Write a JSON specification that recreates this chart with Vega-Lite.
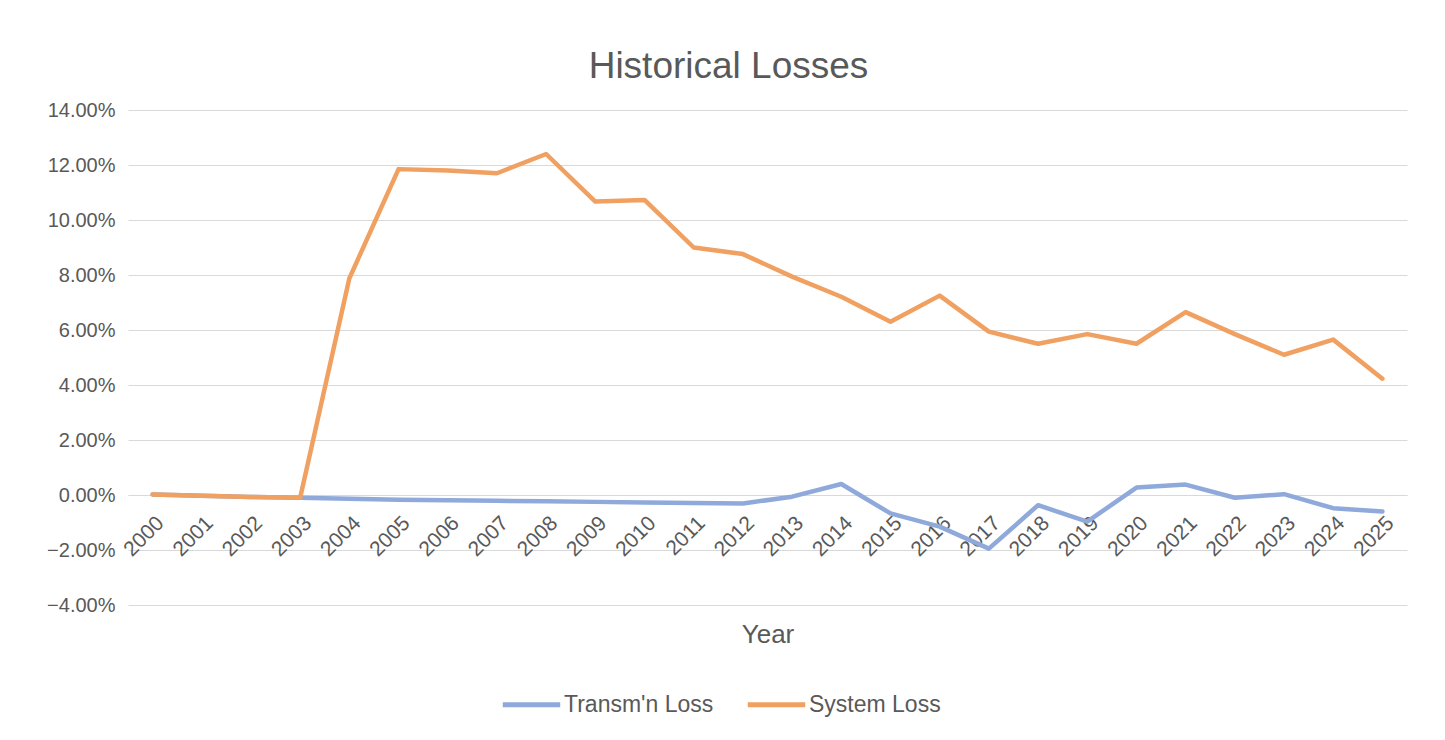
{
  "$schema": "https://vega.github.io/schema/vega-lite/v6.json",
  "width": 1279,
  "height": 495,
  "autosize": "none",
  "padding": {"left": 128, "top": 110, "right": 38, "bottom": 135},
  "background": "#ffffff",
  "title": {
    "text": "Historical Losses",
    "fontSize": 37,
    "font": "Liberation Sans",
    "fontWeight": "normal",
    "color": "#595959",
    "anchor": "middle",
    "dx": -39,
    "offset": 14
  },
  "data": {
    "values": [
      {"Year": "2000", "Series": "Transm'n Loss", "Value": 0.0002},
      {"Year": "2001", "Series": "Transm'n Loss", "Value": -0.0003},
      {"Year": "2002", "Series": "Transm'n Loss", "Value": -0.0007},
      {"Year": "2003", "Series": "Transm'n Loss", "Value": -0.0010},
      {"Year": "2004", "Series": "Transm'n Loss", "Value": -0.0014},
      {"Year": "2005", "Series": "Transm'n Loss", "Value": -0.0017},
      {"Year": "2006", "Series": "Transm'n Loss", "Value": -0.0019},
      {"Year": "2007", "Series": "Transm'n Loss", "Value": -0.0021},
      {"Year": "2008", "Series": "Transm'n Loss", "Value": -0.0023},
      {"Year": "2009", "Series": "Transm'n Loss", "Value": -0.0025},
      {"Year": "2010", "Series": "Transm'n Loss", "Value": -0.0027},
      {"Year": "2011", "Series": "Transm'n Loss", "Value": -0.0029},
      {"Year": "2012", "Series": "Transm'n Loss", "Value": -0.0031},
      {"Year": "2013", "Series": "Transm'n Loss", "Value": -0.0006},
      {"Year": "2014", "Series": "Transm'n Loss", "Value": 0.0040},
      {"Year": "2015", "Series": "Transm'n Loss", "Value": -0.0067},
      {"Year": "2016", "Series": "Transm'n Loss", "Value": -0.0115},
      {"Year": "2017", "Series": "Transm'n Loss", "Value": -0.0195},
      {"Year": "2018", "Series": "Transm'n Loss", "Value": -0.0037},
      {"Year": "2019", "Series": "Transm'n Loss", "Value": -0.0097},
      {"Year": "2020", "Series": "Transm'n Loss", "Value": 0.0027},
      {"Year": "2021", "Series": "Transm'n Loss", "Value": 0.0038},
      {"Year": "2022", "Series": "Transm'n Loss", "Value": -0.0010},
      {"Year": "2023", "Series": "Transm'n Loss", "Value": 0.0003},
      {"Year": "2024", "Series": "Transm'n Loss", "Value": -0.0048},
      {"Year": "2025", "Series": "Transm'n Loss", "Value": -0.0060},
      {"Year": "2000", "Series": "System Loss", "Value": 0.0002},
      {"Year": "2001", "Series": "System Loss", "Value": -0.0003},
      {"Year": "2002", "Series": "System Loss", "Value": -0.0007},
      {"Year": "2003", "Series": "System Loss", "Value": -0.0010},
      {"Year": "2004", "Series": "System Loss", "Value": 0.0788},
      {"Year": "2005", "Series": "System Loss", "Value": 0.1185},
      {"Year": "2006", "Series": "System Loss", "Value": 0.1180},
      {"Year": "2007", "Series": "System Loss", "Value": 0.1170},
      {"Year": "2008", "Series": "System Loss", "Value": 0.1240},
      {"Year": "2009", "Series": "System Loss", "Value": 0.1067},
      {"Year": "2010", "Series": "System Loss", "Value": 0.1073},
      {"Year": "2011", "Series": "System Loss", "Value": 0.0900},
      {"Year": "2012", "Series": "System Loss", "Value": 0.0876},
      {"Year": "2013", "Series": "System Loss", "Value": 0.0794},
      {"Year": "2014", "Series": "System Loss", "Value": 0.0721},
      {"Year": "2015", "Series": "System Loss", "Value": 0.0630},
      {"Year": "2016", "Series": "System Loss", "Value": 0.0725},
      {"Year": "2017", "Series": "System Loss", "Value": 0.0594},
      {"Year": "2018", "Series": "System Loss", "Value": 0.0550},
      {"Year": "2019", "Series": "System Loss", "Value": 0.0585},
      {"Year": "2020", "Series": "System Loss", "Value": 0.0550},
      {"Year": "2021", "Series": "System Loss", "Value": 0.0665},
      {"Year": "2022", "Series": "System Loss", "Value": 0.0585},
      {"Year": "2023", "Series": "System Loss", "Value": 0.0510},
      {"Year": "2024", "Series": "System Loss", "Value": 0.0565},
      {"Year": "2025", "Series": "System Loss", "Value": 0.0423}
    ]
  },
  "mark": {"type": "line", "strokeWidth": 4.5, "strokeCap": "round", "strokeJoin": "round"},
  "encoding": {
    "x": {
      "field": "Year",
      "type": "ordinal",
      "scale": {"type": "point", "padding": 0.5},
      "axis": {
        "title": "Year",
        "offset": -110,
        "labelAngle": -45,
        "labelFontSize": 21,
        "labelFont": "Liberation Sans",
        "labelColor": "#595959",
        "labelPadding": 17,
        "labelDx": -10,
        "ticks": false,
        "domain": true,
        "domainColor": "#d9d9d9",
        "grid": false,
        "titleFontSize": 26,
        "titleFont": "Liberation Sans",
        "titleFontWeight": "normal",
        "titleColor": "#595959",
        "titlePadding": 62
      }
    },
    "y": {
      "field": "Value",
      "type": "quantitative",
      "scale": {"domain": [-0.04, 0.14], "nice": false, "zero": false},
      "axis": {
        "title": null,
        "format": ".2%",
        "values": [-0.04, -0.02, 0, 0.02, 0.04, 0.06, 0.08, 0.1, 0.12, 0.14],
        "labelFontSize": 20,
        "labelFont": "Liberation Sans",
        "labelColor": "#595959",
        "labelPadding": 13,
        "ticks": false,
        "domain": false,
        "grid": true,
        "gridColor": "#d9d9d9",
        "gridWidth": 1
      }
    },
    "color": {
      "field": "Series",
      "type": "nominal",
      "scale": {"domain": ["Transm'n Loss", "System Loss"], "range": ["#8FA9DB", "#F0A061"]},
      "legend": {
        "title": null,
        "orient": "none",
        "legendX": 372,
        "legendY": 563,
        "direction": "horizontal",
        "symbolType": "stroke",
        "symbolSize": 3300,
        "symbolStrokeWidth": 5,
        "labelFontSize": 23,
        "labelFont": "Liberation Sans",
        "labelColor": "#595959",
        "labelOffset": 1,
        "columnPadding": 23
      }
    }
  },
  "config": {
    "view": {"stroke": null}
  }
}
